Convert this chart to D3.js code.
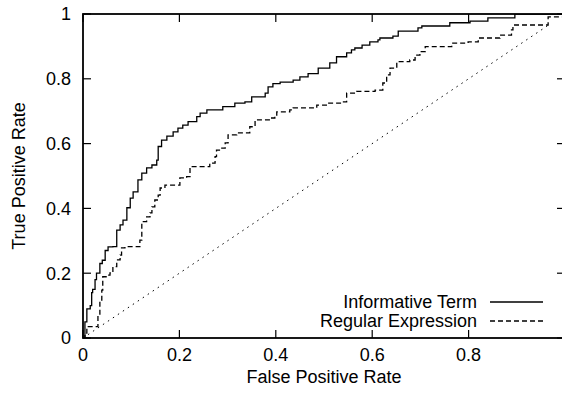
<!DOCTYPE html>
<html><head><meta charset="utf-8">
<script src="https://cdn.jsdelivr.net/npm/d3@7"></script>
<style>body{margin:0;background:#fff}svg{display:block}text{font-family:"Liberation Sans",Arial,sans-serif;fill:#000}</style>
</head><body>
<script>
const xTicks = [0, 0.2, 0.4, 0.6, 0.8, 1];
const yTicks = [0, 0.2, 0.4, 0.6, 0.8, 1];
const seriesNames = ["Informative Term", "Regular Expression"];
const informativeFPR = [0,0.004,0.008,0.015,0.018,0.02,0.025,0.028,0.035,0.04,0.046,0.052,0.062,0.07,0.077,0.083,0.091,0.098,0.104,0.114,0.122,0.132,0.143,0.153,0.156,0.163,0.174,0.187,0.197,0.207,0.218,0.236,0.243,0.257,0.290,0.315,0.336,0.350,0.378,0.384,0.394,0.409,0.436,0.450,0.467,0.488,0.512,0.526,0.547,0.557,0.564,0.579,0.595,0.612,0.616,0.643,0.654,0.695,0.703,0.761,0.803,0.840,0.896,1.0];
const informativeTPR = [0,0.05,0.09,0.10,0.14,0.15,0.18,0.20,0.23,0.24,0.27,0.281,0.282,0.333,0.349,0.364,0.402,0.432,0.451,0.488,0.509,0.525,0.534,0.549,0.591,0.611,0.623,0.636,0.648,0.657,0.668,0.683,0.694,0.704,0.714,0.725,0.729,0.744,0.756,0.775,0.785,0.790,0.796,0.806,0.816,0.833,0.849,0.868,0.880,0.889,0.895,0.904,0.914,0.920,0.926,0.932,0.947,0.957,0.963,0.973,0.978,0.988,1.0,1.0];
const regexFPR = [0,0.004,0.008,0.028,0.031,0.035,0.039,0.041,0.052,0.056,0.062,0.070,0.077,0.080,0.087,0.111,0.118,0.122,0.132,0.139,0.143,0.149,0.156,0.160,0.170,0.194,0.201,0.215,0.222,0.243,0.263,0.274,0.277,0.288,0.295,0.301,0.319,0.342,0.346,0.357,0.388,0.398,0.402,0.429,0.436,0.477,0.485,0.508,0.539,0.547,0.568,0.606,0.622,0.630,0.637,0.651,0.678,0.689,0.699,0.710,0.730,0.765,0.799,0.820,0.865,0.889,0.892,0.962,0.965,1.0];
const regexTPR = [0,0.015,0.035,0.035,0.066,0.117,0.148,0.189,0.194,0.201,0.220,0.241,0.256,0.278,0.282,0.282,0.302,0.359,0.374,0.386,0.405,0.426,0.441,0.463,0.472,0.472,0.494,0.498,0.529,0.529,0.540,0.560,0.580,0.586,0.602,0.627,0.633,0.633,0.652,0.673,0.679,0.688,0.698,0.704,0.710,0.710,0.719,0.725,0.729,0.756,0.761,0.765,0.787,0.812,0.833,0.853,0.858,0.873,0.884,0.899,0.899,0.910,0.914,0.926,0.935,0.951,0.966,0.966,0.991,0.992];
const randomFPR = [0, 0.965];
const randomTPR = [0, 0.965];

const W = 562, H = 394;
const m = {left: 83, top: 14, right: 565, bottom: 338};
const svg = d3.select("body").append("svg").attr("width", W).attr("height", H);
const x = d3.scaleLinear().domain([0, 1]).range([m.left, m.right]);
const y = d3.scaleLinear().domain([0, 1]).range([m.bottom, m.top]);
const fs = 18;

// ticks (inward) on all sides
const tickLen = 8;
const gT = svg.append("g").attr("stroke", "#000").attr("stroke-width", 1.2);
xTicks.forEach(v => {
  gT.append("line").attr("x1", x(v)).attr("x2", x(v)).attr("y1", m.bottom).attr("y2", m.bottom - tickLen);
  gT.append("line").attr("x1", x(v)).attr("x2", x(v)).attr("y1", m.top).attr("y2", m.top + tickLen);
});
yTicks.forEach(v => {
  gT.append("line").attr("x1", m.left).attr("x2", m.left + tickLen).attr("y1", y(v)).attr("y2", y(v));
  gT.append("line").attr("x1", m.right).attr("x2", m.right - tickLen).attr("y1", y(v)).attr("y2", y(v));
});
// tick labels
xTicks.filter(v => x(v) < W - 10).forEach(v => {
  svg.append("text").attr("x", x(v)).attr("y", 361).attr("text-anchor", "middle")
    .attr("font-size", fs).text(d3.format("")(v));
});
yTicks.forEach(v => {
  svg.append("text").attr("x", 71).attr("y", y(v)).attr("dy", "0.35em").attr("text-anchor", "end")
    .attr("font-size", fs).text(d3.format("")(v));
});
// axis titles
svg.append("text").attr("x", 324).attr("y", 383).attr("text-anchor", "middle")
  .attr("font-size", fs).text("False Positive Rate");
svg.append("text").attr("transform", `translate(25,${(m.top + m.bottom) / 2}) rotate(-90)`)
  .attr("text-anchor", "middle").attr("font-size", fs).text("True Positive Rate");

// curves
const lineStep = d3.line().x(d => x(d[0])).y(d => y(d[1])).curve(d3.curveStepAfter);
const lineLin = d3.line().x(d => x(d[0])).y(d => y(d[1]));
const clip = svg.append("clipPath").attr("id", "c").append("rect")
  .attr("x", m.left).attr("y", m.top).attr("width", m.right - m.left).attr("height", m.bottom - m.top);
const gp = svg.append("g").attr("clip-path", "url(#c)").attr("fill", "none").attr("stroke", "#000");
gp.append("path").attr("d", lineLin(d3.zip(randomFPR, randomTPR)))
  .attr("stroke-width", 1).attr("stroke-dasharray", "1.5,4.5");
gp.append("path").attr("d", lineStep(d3.zip(regexFPR, regexTPR)))
  .attr("stroke-width", 1.3).attr("stroke-dasharray", "5,3");
gp.append("path").attr("d", lineStep(d3.zip(informativeFPR, informativeTPR)))
  .attr("stroke-width", 1.3);

// frame
svg.append("rect").attr("x", m.left).attr("y", m.top).attr("width", m.right - m.left).attr("height", m.bottom - m.top)
  .attr("fill", "none").attr("stroke", "#000").attr("stroke-width", 1.8);

// legend
const legY = [302, 321];
const dashes = [null, "5,3"];
seriesNames.forEach((n, i) => {
  svg.append("text").attr("x", 477).attr("y", legY[i]).attr("dy", "0.35em").attr("text-anchor", "end")
    .attr("font-size", fs).text(n);
  svg.append("line").attr("x1", 490).attr("x2", 543).attr("y1", legY[i]).attr("y2", legY[i])
    .attr("stroke", "#000").attr("stroke-width", 1.3).attr("stroke-dasharray", dashes[i]);
});
</script>
</body></html>
